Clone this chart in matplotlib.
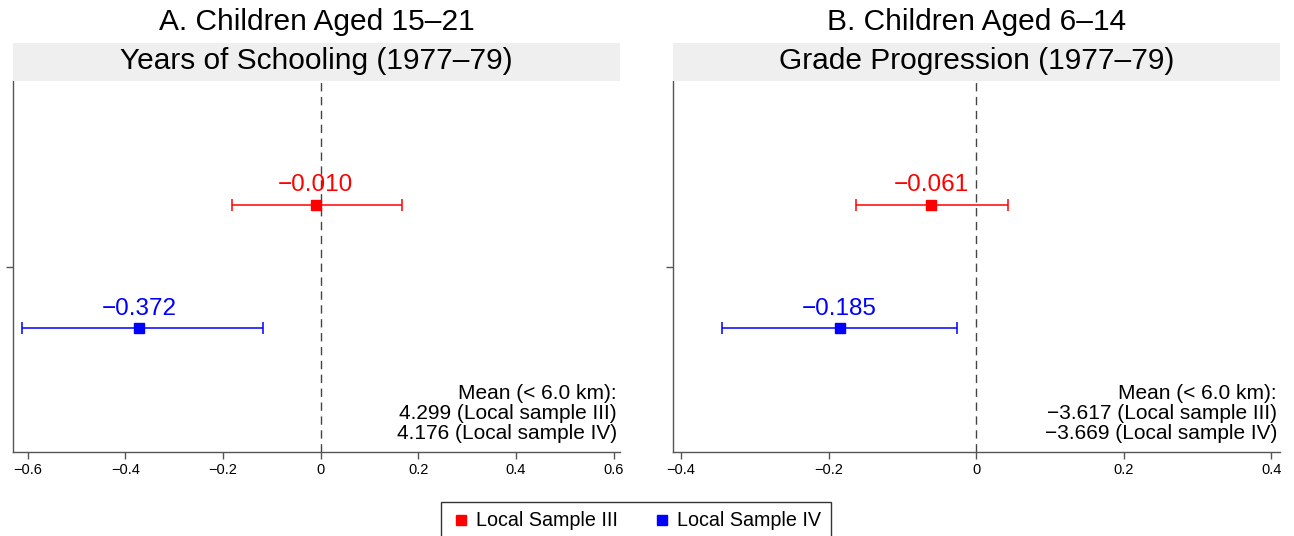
import matplotlib
matplotlib.use("Agg")
import matplotlib.pyplot as plt
from matplotlib.patches import Rectangle
from matplotlib.lines import Line2D

plt.rcParams['font.family'] = ['Liberation Sans', 'DejaVu Sans']

# Data
panel_titles = ["A. Children Aged 15\u201321", "B. Children Aged 6\u201314"]
panel_strips = ["Years of Schooling (1977\u201379)", "Grade Progression (1977\u201379)"]
series_names = ["Local Sample III", "Local Sample IV"]
series_colors = ["#ff0000", "#0000ff"]
est_A = [-0.010, -0.372]
lo_A = [-0.182, -0.611]
hi_A = [0.166, -0.119]
est_B = [-0.061, -0.185]
lo_B = [-0.163, -0.345]
hi_B = [0.043, -0.026]
mean_text_A = ["Mean (< 6.0 km):", "4.299 (Local sample III)", "4.176 (Local sample IV)"]
mean_text_B = ["Mean (< 6.0 km):", "\u22123.617 (Local sample III)", "\u22123.669 (Local sample IV)"]
xticks_A = [-0.6, -0.4, -0.2, 0, 0.2, 0.4, 0.6]
xticks_B = [-0.4, -0.2, 0, 0.2, 0.4]
xlim_A = (-0.63, 0.613)
xlim_B = (-0.411, 0.412)

W, H = 1294, 536
fig = plt.figure(figsize=(W / 100, H / 100), dpi=100)

def fmt_tick(v):
    if v == 0:
        return "0"
    s = f"{v:.1f}"
    return s.replace("-", "\u2212")

def fmt_est(v):
    return f"{v:.3f}".replace("-", "\u2212")

panels = [
    (13, 620, est_A, lo_A, hi_A, mean_text_A, xticks_A, xlim_A),
    (673, 1280, est_B, lo_B, hi_B, mean_text_B, xticks_B, xlim_B),
]
ax_top, ax_bot = 81, 452
ypos = [1, 0]

for i, (x0, x1, est, lo, hi, mtext, xt, xl) in enumerate(panels):
    ax = fig.add_axes([x0 / W, 1 - ax_bot / H, (x1 - x0) / W, (ax_bot - ax_top) / H])
    ax.set_xlim(*xl)
    ax.set_ylim(-1, 2)
    for sp in ["top", "right"]:
        ax.spines[sp].set_visible(False)
    for sp in ["left", "bottom"]:
        ax.spines[sp].set_color("#555555")
        ax.spines[sp].set_linewidth(1.0)
    ax.axvline(0, color="#444444", linestyle=(0, (6, 4)), linewidth=1.0, zorder=1)
    for j in range(2):
        ax.errorbar([est[j]], [ypos[j]], xerr=[[est[j] - lo[j]], [hi[j] - est[j]]],
                    fmt="s", color=series_colors[j], ecolor=series_colors[j],
                    elinewidth=1.1, capsize=4, capthick=1.1, markersize=6.5, zorder=3)
        ax.annotate(fmt_est(est[j]), (est[j], ypos[j]), xytext=(0, 6),
                    textcoords="offset points", ha="center", va="bottom",
                    color=series_colors[j], fontsize=17.5)
    ax.set_xticks(xt)
    ax.set_xticklabels([fmt_tick(v) for v in xt], fontsize=10.5)
    ax.set_yticks([0.5])
    ax.set_yticklabels([""])
    ax.tick_params(axis="both", colors="#555555", labelcolor="black", length=5, width=1.0)
    ax.tick_params(axis="x", pad=3)
    # mean annotation
    ax.text(0.995, 0.025, "\n".join(mtext), transform=ax.transAxes, ha="right", va="bottom",
            fontsize=15, linespacing=1.07)
    # strip
    strip = Rectangle((x0 / W, 1 - 81 / H), (x1 - x0) / W, (81 - 43) / H,
                      transform=fig.transFigure, facecolor="#efefef", edgecolor="none")
    fig.add_artist(strip)
    fig.text((x0 + x1) / 2 / W, 1 - 61 / H, panel_strips[i], ha="center", va="center", fontsize=21.5)
    fig.text((x0 + x1) / 2 / W, 1 - 22 / H, panel_titles[i], ha="center", va="center", fontsize=21.5)

handles = [Line2D([], [], marker="s", linestyle="none", color=c, markersize=7) for c in series_colors]
leg = fig.legend(handles, series_names, loc="center", bbox_to_anchor=(636 / W, 1 - 521 / H),
                 ncol=2, frameon=True, fontsize=14.2, handletextpad=0.3, columnspacing=1.7,
                 borderpad=0.5, handlelength=1.0, fancybox=False, edgecolor="black")
leg.get_frame().set_linewidth(1.0)

fig.savefig("out.png", dpi=100)
